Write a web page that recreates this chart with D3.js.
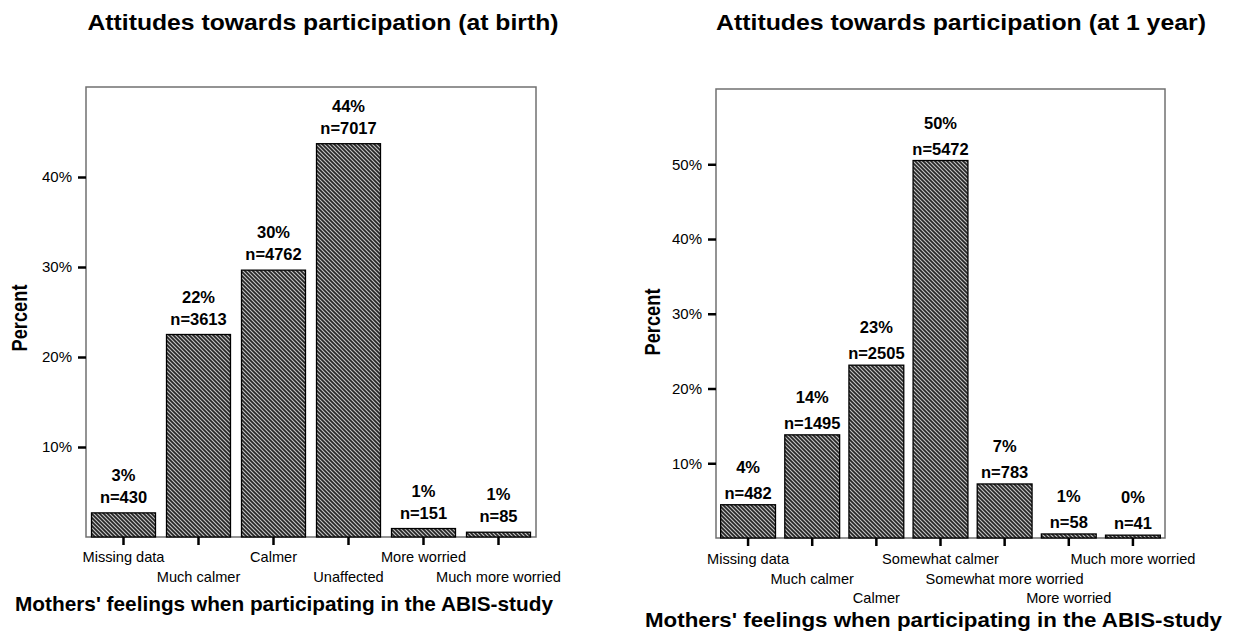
<!DOCTYPE html>
<html>
<head>
<meta charset="utf-8">
<script src="https://cdn.jsdelivr.net/npm/d3@7"></script>
<style>
  html, body { margin: 0; padding: 0; background: #fff; }
  svg { display: block; font-family: Arial, "Liberation Sans", sans-serif; }
</style>
</head>
<body>
<svg id="chart" width="1235" height="637"></svg>
<script>
// ---- Data ----
const birthCategories = ["Missing data", "Much calmer", "Calmer", "Unaffected", "More worried", "Much more worried"];
const birthPercent    = [2.68, 22.5, 29.65, 43.7, 0.94, 0.53];
const birthPctLabels  = ["3%", "22%", "30%", "44%", "1%", "1%"];
const birthCounts     = [430, 3613, 4762, 7017, 151, 85];
const birthTicks      = [10, 20, 30, 40];

const yearCategories = ["Missing data", "Much calmer", "Calmer", "Somewhat calmer", "Somewhat more worried", "More worried", "Much more worried"];
const yearPercent    = [4.45, 13.8, 23.12, 50.5, 7.23, 0.54, 0.38];
const yearPctLabels  = ["4%", "14%", "23%", "50%", "7%", "1%", "0%"];
const yearCounts     = [482, 1495, 2505, 5472, 783, 58, 41];
const yearTicks      = [10, 20, 30, 40, 50];

const titles = ["Attitudes towards participation (at birth)", "Attitudes towards participation (at 1 year)"];
const xTitle = "Mothers' feelings when participating in the ABIS-study";
const yTitle = "Percent";

const svg = d3.select("#chart");

// hatch pattern
const defs = svg.append("defs");
const pat = defs.append("pattern")
  .attr("id", "hatch").attr("patternUnits", "userSpaceOnUse")
  .attr("width", 4).attr("height", 4);
pat.append("rect").attr("width", 4).attr("height", 4).attr("fill", "#262626");
pat.append("path").attr("d", "M-1,-1 L5,5 M-1,3 L1,5 M3,-1 L5,1")
  .attr("stroke", "#c4c4c4").attr("stroke-width", 1.1);

function drawChart(cfg) {
  const g = svg.append("g");
  const x = d3.scaleBand().domain(cfg.categories).range([cfg.left, cfg.right])
    .paddingInner(cfg.padIn).paddingOuter(cfg.padIn / 2);
  const y = d3.scaleLinear().domain([0, cfg.yMax]).range([cfg.bottom, cfg.top]);

  // frame
  g.append("rect")
    .attr("x", cfg.left).attr("y", cfg.top)
    .attr("width", cfg.right - cfg.left).attr("height", cfg.bottom - cfg.top)
    .attr("fill", "none").attr("stroke", "#707070").attr("stroke-width", 1.5);

  // bars
  g.selectAll("rect.bar").data(cfg.values).join("rect")
    .attr("class", "bar")
    .attr("x", (d, i) => x(cfg.categories[i]))
    .attr("width", x.bandwidth())
    .attr("y", d => y(d))
    .attr("height", d => cfg.bottom - y(d))
    .attr("fill", "url(#hatch)")
    .attr("stroke", "#000").attr("stroke-width", 1.3);

  // value labels
  const lab = g.selectAll("g.lab").data(cfg.values).join("g").attr("class", "lab")
    .attr("transform", (d, i) => `translate(${x(cfg.categories[i]) + x.bandwidth() / 2},${y(d) - cfg.nGap})`)
    .attr("text-anchor", "middle").attr("font-weight", "bold").attr("font-size", 16.5);
  lab.append("text").attr("y", 0).text((d, i) => "n=" + cfg.counts[i]);
  lab.append("text").attr("y", -cfg.lineGap).text((d, i) => cfg.pctLabels[i]);

  // y axis ticks
  const yAx = g.append("g").attr("transform", `translate(${cfg.left},0)`)
    .call(d3.axisLeft(y).tickValues(cfg.ticks).tickSize(8).tickPadding(6).tickFormat(d => d + "%"));
  yAx.select(".domain").remove();
  yAx.selectAll(".tick line").attr("stroke", "#000").attr("stroke-width", 2.5);
  yAx.selectAll(".tick text").attr("font-size", 15).attr("fill", "#000")
    .attr("font-family", "Arial, 'Liberation Sans', sans-serif");

  // x axis ticks + staggered labels
  const xAx = g.append("g").attr("transform", `translate(0,${cfg.bottom})`)
    .call(d3.axisBottom(x).tickSize(8).tickFormat(""));
  xAx.select(".domain").remove();
  xAx.selectAll(".tick line").attr("stroke", "#000").attr("stroke-width", 2.5);
  g.selectAll("text.cat").data(cfg.categories).join("text")
    .attr("class", "cat")
    .attr("x", d => x(d) + x.bandwidth() / 2)
    .attr("y", (d, i) => cfg.rowY[i % cfg.rowY.length])
    .attr("text-anchor", "middle").attr("font-size", 14.6)
    .text(d => d);

  // titles
  svg.append("text").attr("x", cfg.titleX).attr("y", 30)
    .attr("text-anchor", "middle").attr("font-weight", "bold").attr("font-size", 22)
    .attr("textLength", cfg.titleLen).attr("lengthAdjust", "spacingAndGlyphs")
    .text(cfg.title);
  svg.append("text").attr("x", cfg.xTitleX).attr("y", cfg.xTitleY)
    .attr("text-anchor", "middle").attr("font-weight", "bold").attr("font-size", 21)
    .attr("textLength", cfg.xTitleLen).attr("lengthAdjust", "spacingAndGlyphs")
    .text(xTitle);
  svg.append("text")
    .attr("transform", `translate(${cfg.yTitleX},${cfg.yTitleY}) rotate(-90)`)
    .attr("text-anchor", "middle").attr("font-weight", "bold").attr("font-size", 22)
    .attr("textLength", 67).attr("lengthAdjust", "spacingAndGlyphs")
    .text(yTitle);
}

drawChart({
  categories: birthCategories, values: birthPercent, counts: birthCounts, pctLabels: birthPctLabels,
  ticks: birthTicks, yMax: 50, left: 86, right: 536, top: 87, bottom: 537, padIn: 0.147,
  nGap: 10, lineGap: 22, rowY: [562, 582], title: titles[0], titleX: 323, titleLen: 471,
  xTitleX: 284, xTitleY: 611, xTitleLen: 538, yTitleX: 27, yTitleY: 318
});
drawChart({
  categories: yearCategories, values: yearPercent, counts: yearCounts, pctLabels: yearPctLabels,
  ticks: yearTicks, yMax: 60.07, left: 716, right: 1165, top: 89, bottom: 538, padIn: 0.145,
  nGap: 6, lineGap: 26, rowY: [564, 583.5, 603], title: titles[1], titleX: 961, titleLen: 490,
  xTitleX: 933.5, xTitleY: 627, xTitleLen: 577, yTitleX: 660, yTitleY: 322
});
</script>
</body>
</html>
